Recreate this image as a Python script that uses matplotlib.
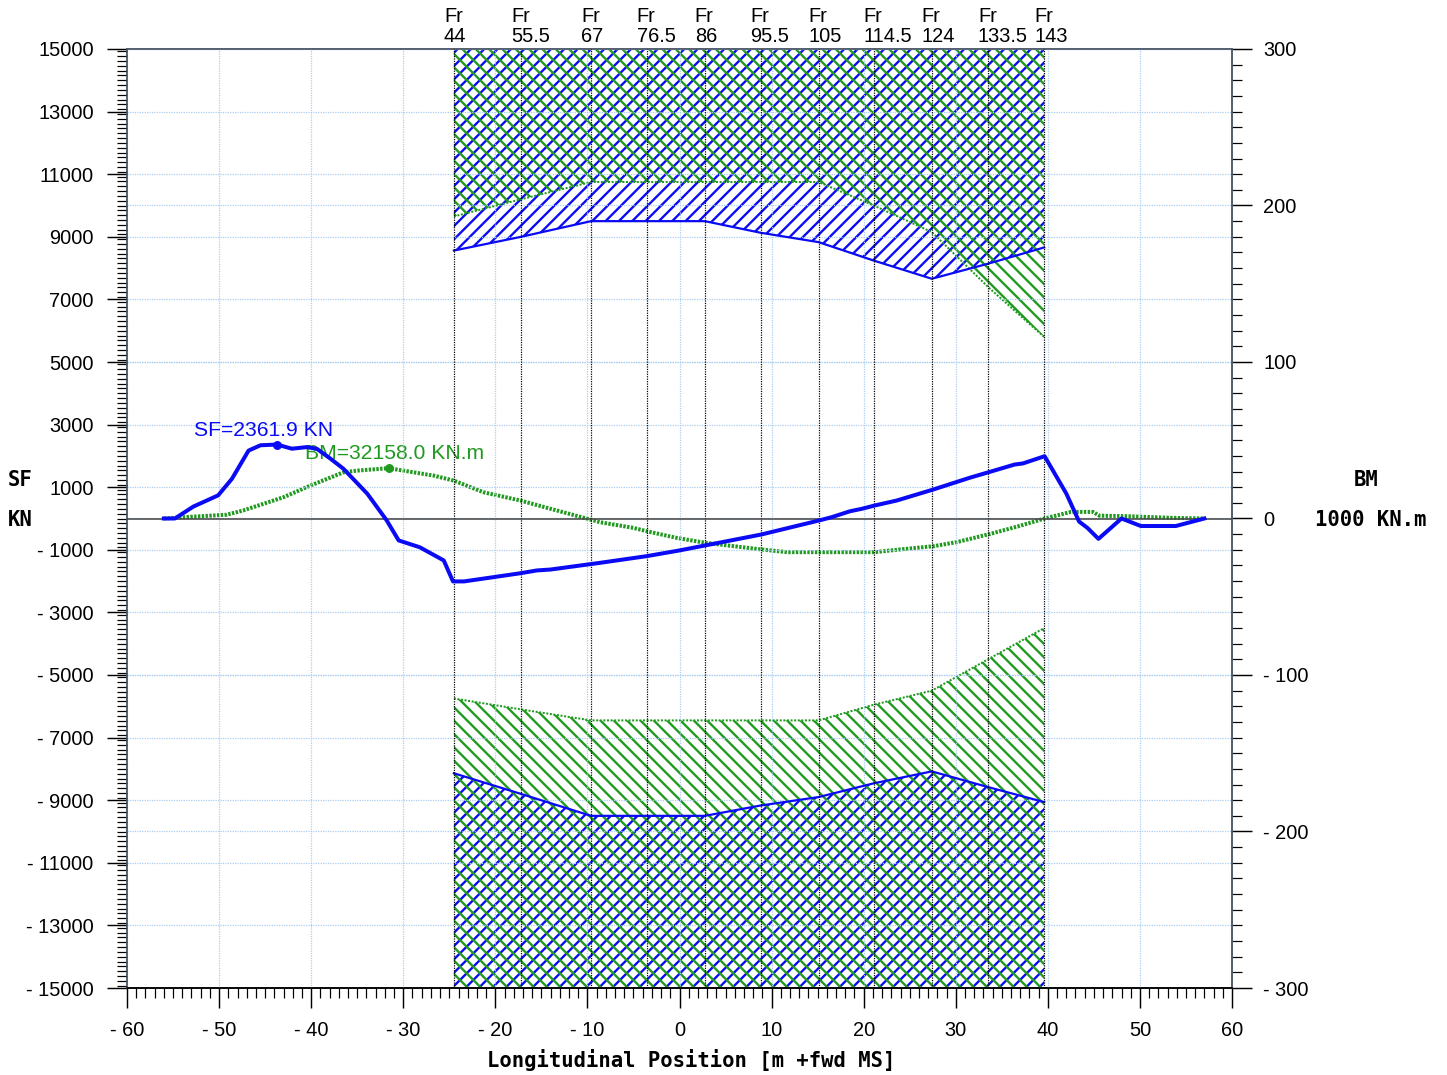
import numpy as np
import matplotlib
matplotlib.use("Agg")
import matplotlib.pyplot as plt
from matplotlib.ticker import MultipleLocator, FuncFormatter

plt.rcParams['font.family'] = ['Liberation Sans', 'DejaVu Sans']
plt.rcParams['hatch.linewidth'] = 2.1

BLUE = '#0a0af5'
GREEN = '#1f9a1f'
GRID = '#a9cdf2'

# frame stations and strength limits
frames = ['44', '55.5', '67', '76.5', '86', '95.5', '105', '114.5', '124', '133.5', '143']
frame_x = [-24.5, -17.2, -9.6, -3.55, 2.75, 8.8, 15.1, 21.1, 27.4, 33.5, 39.6]
sf_max = [8560, 9000, 9500, 9500, 9500, 9130, 8830, 8240, 7660, 8140, 8660]
sf_min = [-8140, -8800, -9500, -9500, -9500, -9170, -8900, -8460, -8080, -8580, -9060]
bm_max = [193, 204, 215, 215, 215, 215, 215, 200, 183, 148, 116]
bm_min = [-115, -122, -129, -129, -129, -129, -129, -119, -110, -90, -70]

# shear force curve [KN]
sf_x = [-56.0, -54.8, -52.8, -50.1, -48.6, -46.8, -45.5, -43.7, -42.1, -40.5, -39.4, -37.9,
        -36.5, -33.9, -31.8, -30.5, -28.2, -25.6, -24.6, -23.4, -17.3, -15.5, -14.0, -8.6,
        -3.5, 0.0, 2.8, 8.9, 15.2, 16.5, 18.5, 19.8, 21.2, 23.6, 27.6, 31.5, 33.7, 36.4,
        37.3, 39.65, 42.0, 43.4, 44.3, 45.5, 48.0, 50.1, 53.9, 57.0]
sf = [0, 0, 380, 740, 1270, 2170, 2340, 2362, 2230, 2280, 2230, 1910,
      1590, 790, -60, -700, -920, -1340, -2010, -2010, -1750, -1660, -1630, -1415,
      -1200, -1020, -860, -510, -60, 40, 230, 310, 415, 575, 930, 1300, 1490, 1725,
      1760, 1990, 800, -100, -300, -650, 0, -240, -240, 0]

# bending moment curve [1000 KN.m]
bm_x = [-56.0, -53.9, -49.2, -47.4, -43.0, -40.1, -36.5, -35.0, -31.6, -26.7, -24.5, -21.3,
        -17.3, -14.0, -10.1, -8.6, -5.0, -3.5, -0.3, 2.8, 8.9, 11.7, 21.2, 23.9, 27.6,
        30.1, 33.5, 36.6, 39.65, 42.5, 44.9, 45.6, 48.4, 53.5, 57.0]
bm = [0, 0.8, 2.4, 5.1, 13.6, 21.0, 29.5, 30.6, 32.158, 27.4, 24.2, 16.8,
      11.5, 6.2, 0, -2.4, -6.0, -8.2, -12.4, -15.5, -19.8, -21.5, -21.5, -19.8, -17.7,
      -15.1, -10.2, -5.3, 0, 4.2, 4.2, 1.8, 1.5, 0.4, 0]

sf_peak = (-43.7, 2361.9)
bm_peak = (-31.6, 32.158)

fig = plt.figure(figsize=(1447 / 80, 1075 / 80), dpi=80)
ax = fig.add_axes([127 / 1447, 1 - 988 / 1075, 1105 / 1447, 939 / 1075])
ax2 = ax.twinx()
ax.set_zorder(ax2.get_zorder() + 1)
ax.patch.set_visible(False)

ax.set_xlim(-60, 60)
ax.set_ylim(-15000, 15000)
ax2.set_ylim(-300, 300)


def neg_fmt(v, _):
    if v < 0:
        return f"- {abs(v):g}"
    return f"{v:g}"


ax.set_yticks(np.arange(-15000, 15001, 2000))
ax.yaxis.set_minor_locator(MultipleLocator(2000 / 13))
ax.xaxis.set_major_locator(MultipleLocator(10))
ax.xaxis.set_minor_locator(MultipleLocator(1))
ax2.yaxis.set_major_locator(MultipleLocator(100))
ax2.yaxis.set_minor_locator(MultipleLocator(10))
for a in (ax.xaxis, ax.yaxis, ax2.yaxis):
    a.set_major_formatter(FuncFormatter(neg_fmt))

ax.tick_params(axis='both', which='major', direction='out', length=18, width=1.3,
               labelsize=18, color='black')
ax.tick_params(axis='both', which='minor', direction='out', length=9, width=1.1, color='black')
ax.tick_params(axis='y', which='major', pad=12)
ax.tick_params(axis='x', which='major', pad=12)
ax2.tick_params(axis='y', which='major', direction='out', length=18, width=1.3,
                labelsize=18, pad=10)
ax2.tick_params(axis='y', which='minor', direction='out', length=9, width=1.1)

for s in list(ax.spines.values()) + list(ax2.spines.values()):
    s.set_color('#4f5968')
    s.set_linewidth(1.4)
ax.spines['bottom'].set_color('black')
ax2.spines['bottom'].set_color('black')

ax.grid(True, which='major', color=GRID, linestyle=(0, (1, 1)), linewidth=1.1)
ax2.grid(True, axis='y', which='major', color=GRID, linestyle=(0, (1, 1)), linewidth=1.1)
ax.set_axisbelow(True)

# limit hatches
ax2.fill_between(frame_x, sf_max, 15000, transform=ax.transData, facecolor='none',
                 edgecolor=BLUE, hatch='//', linewidth=0)
ax2.fill_between(frame_x, -15000, sf_min, transform=ax.transData, facecolor='none',
                 edgecolor=BLUE, hatch='//', linewidth=0)
ax2.fill_between(frame_x, bm_max, 300, facecolor='none', edgecolor=GREEN, hatch='\\\\',
                 linewidth=0)
ax2.fill_between(frame_x, -300, bm_min, facecolor='none', edgecolor=GREEN, hatch='\\\\',
                 linewidth=0)

ax2.plot(frame_x, bm_max, color=GREEN, linewidth=1.8, linestyle=(0, (1, 0.8)))
ax2.plot(frame_x, bm_min, color=GREEN, linewidth=1.8, linestyle=(0, (1, 0.8)))
ax.plot(frame_x, sf_max, color=BLUE, linewidth=2.0)
ax.plot(frame_x, sf_min, color=BLUE, linewidth=2.0)

# frame stations
for fx, fr in zip(frame_x, frames):
    ax.axvline(fx, color='black', linewidth=1.1, linestyle=(0, (1, 1)), zorder=3)
    ax.annotate(f"Fr\n{fr}", xy=(fx, 1), xycoords=('data', 'axes fraction'),
                xytext=(-9, 3), textcoords='offset points', ha='left', va='bottom',
                fontsize=18, linespacing=1.05)

ax.axhline(0, color='#444444', linewidth=1.4, zorder=3)

# curves
ax2.plot(bm_x, bm, color=GREEN, linewidth=3.6, linestyle=(0, (0.6, 0.35)))
ax2.plot(*bm_peak, 'o', color=GREEN, markersize=7)
ax.plot(sf_x, sf, color=BLUE, linewidth=3.6, zorder=4)
ax.plot(*sf_peak, 'o', color=BLUE, markersize=7, zorder=4)

ax.annotate(f"SF={sf_peak[1]:.1f} KN", xy=sf_peak, xytext=(-75, 8), textcoords='offset points',
            ha='left', va='baseline', fontsize=19, color=BLUE, zorder=5)
ax2.annotate(f"BM={bm_peak[1] * 1000:.1f} KN.m", xy=bm_peak, xytext=(-75, 8),
             textcoords='offset points', ha='left', va='baseline', fontsize=19, color=GREEN)

mono = dict(family='DejaVu Sans Mono', fontweight='bold', fontsize=18.5)
fig.text(691 / 1447, 1 - 1060 / 1075, "Longitudinal Position [m +fwd MS]", ha='center',
         va='center', **mono)
fig.text(20 / 1447, 1 - 480 / 1075, "SF", ha='center', va='center', **mono)
fig.text(20 / 1447, 1 - 520 / 1075, "KN", ha='center', va='center', **mono)
fig.text(1366 / 1447, 1 - 480 / 1075, "BM", ha='center', va='center', **mono)
fig.text(1371 / 1447, 1 - 520 / 1075, "1000 KN.m", ha='center', va='center', **mono)

fig.savefig("out.png", dpi=80)
